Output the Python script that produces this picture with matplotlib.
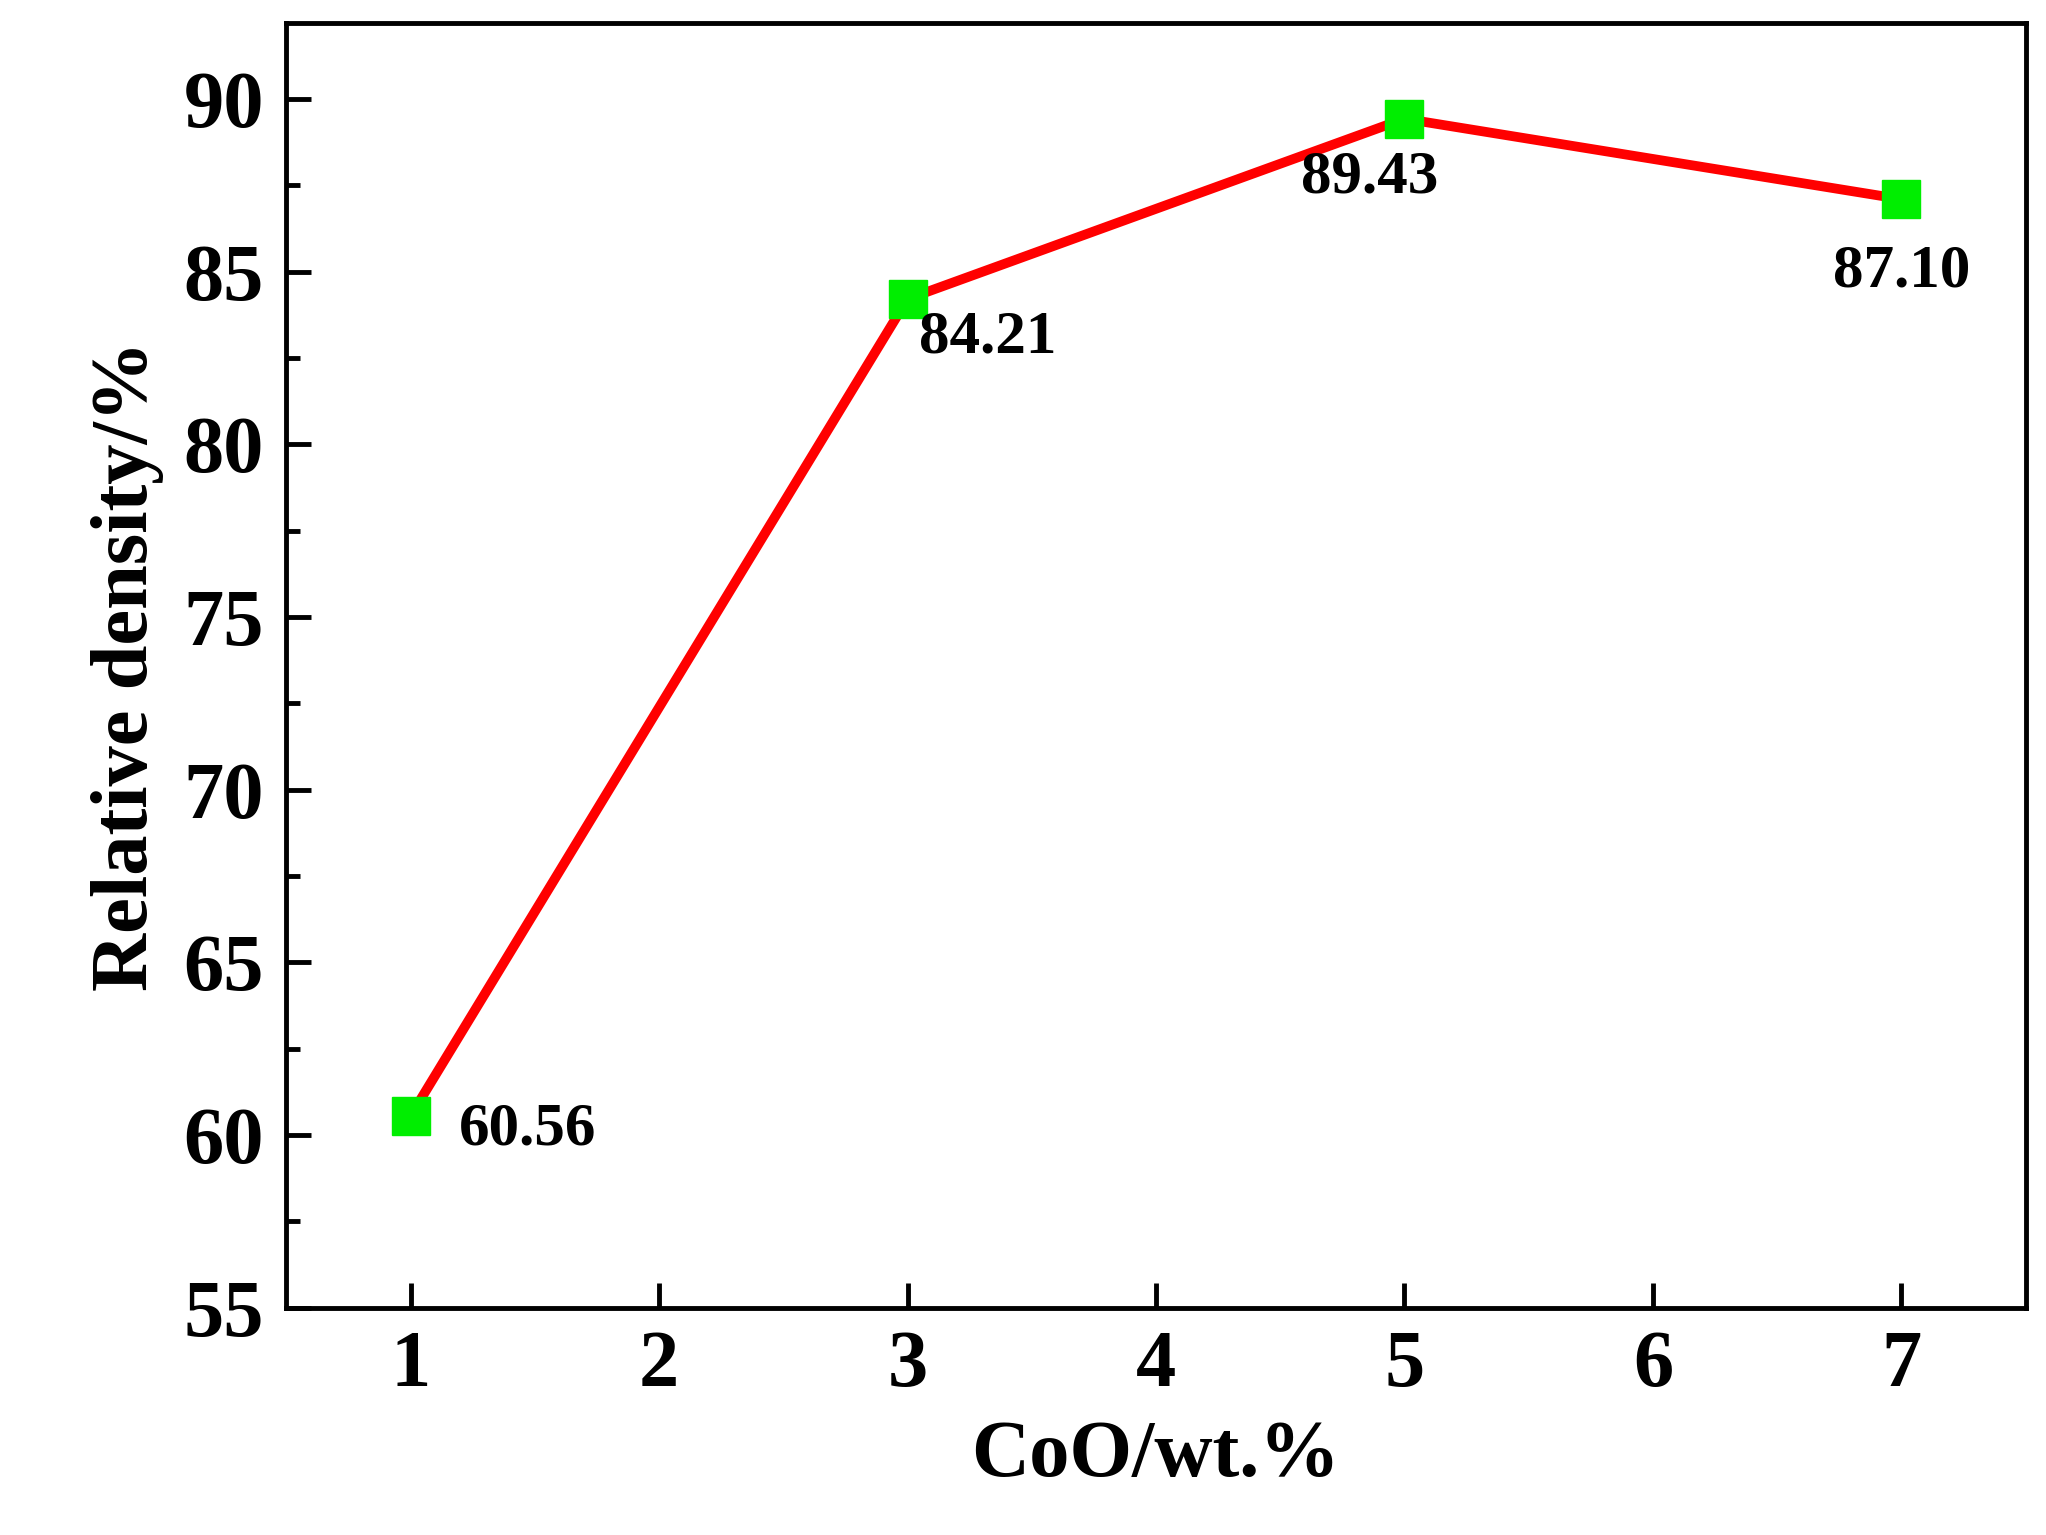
import matplotlib.pyplot as plt
from matplotlib.ticker import MultipleLocator

plt.rcParams['font.family'] = ['Liberation Serif', 'DejaVu Serif']
plt.rcParams['font.weight'] = 'bold'

coo = [1, 3, 5, 7]
density = [60.56, 84.21, 89.43, 87.10]
labels = ["60.56", "84.21", "89.43", "87.10"]
# label offsets in points (dx, dy) and alignment
offsets = [(35, -10, 'left'), (8, -28, 'left'), (-25, -42, 'center'), (0, -52, 'center')]

fig = plt.figure(figsize=(20.46, 15.35), dpi=100)
ax = fig.add_axes([0.14, 0.148, 0.85, 0.837])
ax.plot(coo, density, '-', color='#ff0000', lw=7, zorder=2)
ax.plot(coo, density, 's', color='#00ee00', ms=28, mec='#00ee00', zorder=3, ls='none')
for x, y, t, (dx, dy, ha) in zip(coo, density, labels, offsets):
    ax.annotate(t, (x, y), xytext=(dx, dy), textcoords='offset points',
                ha=ha, va='center', fontsize=44, fontweight='bold')

ax.set_xlim(0.5, 7.5)
ax.set_ylim(55, 92.2)
ax.xaxis.set_major_locator(MultipleLocator(1))
ax.yaxis.set_major_locator(MultipleLocator(5))
ax.yaxis.set_minor_locator(MultipleLocator(2.5))
ax.tick_params(which='both', direction='in', width=3.5, labelsize=58, top=False, right=False)
ax.tick_params(which='major', length=18, pad=16)
ax.tick_params(which='minor', length=10)
for s in ax.spines.values():
    s.set_linewidth(3.5)
for lab in ax.get_xticklabels() + ax.get_yticklabels():
    lab.set_fontweight('bold')
ax.set_xlabel("CoO/wt.%", fontsize=58, fontweight='bold', labelpad=12)
ax.set_ylabel("Relative density/%", fontsize=58, fontweight='bold', labelpad=14)

fig.savefig("out.png", dpi=100)
